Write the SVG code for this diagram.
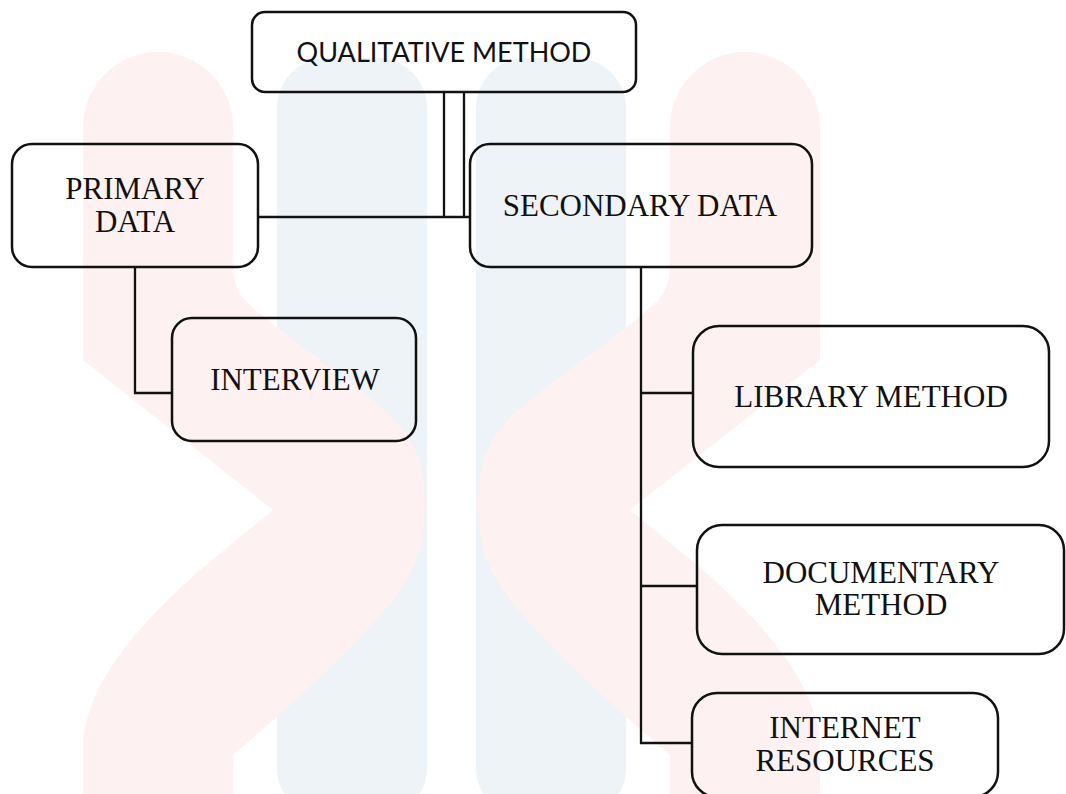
<svg xmlns="http://www.w3.org/2000/svg" width="1066" height="794" viewBox="0 0 1066 794">
  <style>
    .box { fill: none; stroke: #111; stroke-width: 2.5; }
    .wire { fill: none; stroke: #111; stroke-width: 2.3; }
    .lbl { font-family: "Liberation Serif", "Times New Roman", serif; font-size: 31px; fill: #111; text-anchor: middle; }
    .lbl-sans { font-family: Lato, "Noto Sans", "Liberation Sans", sans-serif; font-size: 27px; fill: #111; text-anchor: middle; }
    .wm-blue { fill: #eef3f8; }
    .wm-pink { fill: #fdf1f1; }
  </style>
  <defs>
    <path id="ribbon" d="M83,127 L83,360 L273,510 L200,570 C150,615 83,680 83,750 L83,800 L233,800 L233,755 C280,715 330,670 365,632 C400,595 425,565 425,505 C425,450 405,425 370,398 C330,365 275,330 245,300 C236,290 233,280 233,265 L233,127 A75,75 0 0 0 83,127 Z"/>
  </defs>

  <rect width="1066" height="794" fill="#fff"/>

  <!-- background emblem -->
  <g id="emblem">
    <rect class="wm-blue" x="277" y="58" width="150" height="760" rx="50"/>
    <rect class="wm-blue" x="476" y="58" width="150" height="760" rx="50"/>
    <use href="#ribbon" class="wm-pink"/>
    <use href="#ribbon" class="wm-pink" transform="translate(903,0) scale(-1,1)"/>
  </g>

  <!-- connectors -->
  <g id="connectors">
    <path class="wire" d="M444,92 V217"/>
    <path class="wire" d="M464,92 V217"/>
    <path class="wire" d="M258,217 H470"/>
    <path class="wire" d="M135,267 V393 H172"/>
    <path class="wire" d="M641,267 V743 H692"/>
    <path class="wire" d="M641,393 H693"/>
    <path class="wire" d="M641,586 H697"/>
  </g>

  <g id="qualitative">
    <rect class="box" x="252" y="12" width="384" height="80" rx="13"/>
    <text class="lbl-sans" x="444" y="62">QUALITATIVE METHOD</text>
  </g>

  <g id="primary">
    <rect class="box" x="12" y="144" width="246" height="123" rx="20"/>
    <text class="lbl" x="135" y="199">PRIMARY</text>
    <text class="lbl" x="135" y="232">DATA</text>
  </g>

  <g id="secondary">
    <rect class="box" x="470" y="144" width="342" height="123" rx="20"/>
    <text class="lbl" x="640" y="216">SECONDARY DATA</text>
  </g>

  <g id="interview">
    <rect class="box" x="172" y="318" width="244" height="123" rx="20"/>
    <text class="lbl" x="295" y="390">INTERVIEW</text>
  </g>

  <g id="library">
    <rect class="box" x="693" y="326" width="356" height="141" rx="26"/>
    <text class="lbl" x="871" y="407">LIBRARY METHOD</text>
  </g>

  <g id="documentary">
    <rect class="box" x="697" y="525" width="367" height="129" rx="25"/>
    <text class="lbl" x="881" y="583">DOCUMENTARY</text>
    <text class="lbl" x="881" y="615">METHOD</text>
  </g>

  <g id="internet">
    <rect class="box" x="692" y="693" width="306" height="104" rx="25"/>
    <text class="lbl" x="845" y="738">INTERNET</text>
    <text class="lbl" x="845" y="771">RESOURCES</text>
  </g>
</svg>
